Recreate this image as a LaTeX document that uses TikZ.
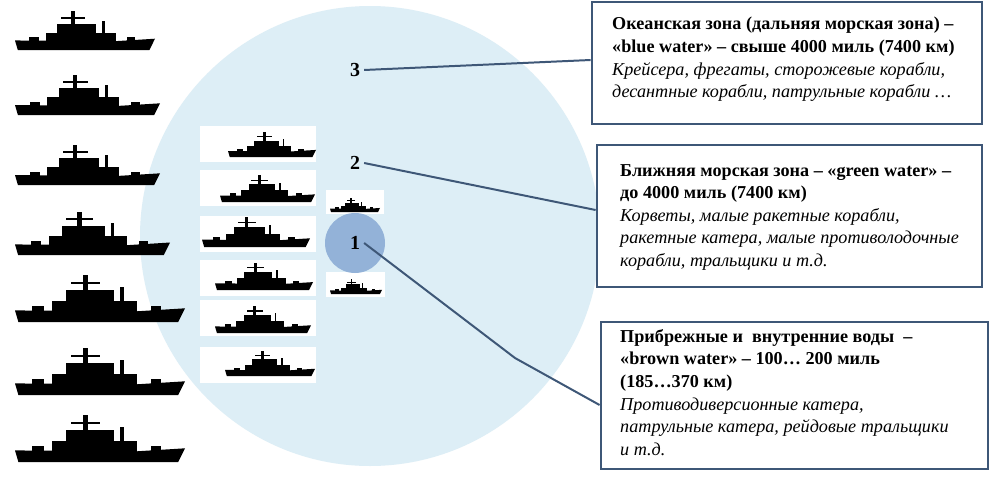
\documentclass[tikz,border=0pt]{standalone}
\usepackage{fontspec}
\setmainfont{Liberation Serif}
\usetikzlibrary{fit}
\begin{document}
\begin{tikzpicture}[x=0.03cm,y=-0.03cm,
  zonebox/.style={draw=boxblue,line width=2.4pt,inner sep=0pt},
  ztext/.style={anchor=north west,align=left,inner sep=0pt,font=\fontsize{15.5}{19.3}\selectfont},
  num/.style={font=\fontsize{17}{20}\selectfont\bfseries},
  conn/.style={draw=boxblue,line width=1.7pt}]
\definecolor{boxblue}{HTML}{3E5777}
\definecolor{seablue}{HTML}{DDEEF6}
\definecolor{coast}{HTML}{93B2D8}
\newcommand\myship[3]{%
 \begin{scope}[shift={(#1,#2)},xscale=#3,yscale=-0.62*#3]
  \fill (0.02,0) -- (0.96,0) -- (1,0.13) -- (0.7,0.1) -- (0,0.11) -- cycle;
  \fill (0.22,0.09) rectangle (0.72,0.2);
  \fill (0.3,0.19) rectangle (0.58,0.3);
  \fill (0.4,0.29) rectangle (0.43,0.45);
  \fill (0.33,0.36) rectangle (0.5,0.38);
  \fill (0.62,0.19) rectangle (0.64,0.33);
  \fill (0.1,0.1) rectangle (0.17,0.15);
  \fill (0.8,0.1) rectangle (0.86,0.15);
 \end{scope}}
\useasboundingbox (0,0) rectangle (993,476);
\fill[white] (0,0) rectangle (993,476);
\begin{scope}
\clip (0,0) rectangle (993,476);
\fill[seablue] (370,236) circle[radius=230];
\end{scope}
% left column ships
\foreach \y/\l in {50/140,115/145,185/145,255/155,322/170,395/170,462/170}
  \myship{15}{\y}{\l}
% middle column ships
\foreach \y in {126,170,216,260,300,347}
  \fill[white] (200,\y) rectangle (316,\y+36);
\foreach \y/\x/\l in {157/228/88,202/220/95,247/202/108,290/215/98,333/215/96,376/225/90}
  \myship{\x}{\y}{\l}
\fill[white] (326,190) rectangle (384,214);
\fill[white] (326,272) rectangle (385,297);
\myship{330}{212}{50}
\myship{330}{294}{52}
% zone numbers
\fill[coast] (355,243) circle[radius=30];
\node[num] (n1) at (355,243) {1};
\node[num] (n2) at (355,163) {2};
\node[num] (n3) at (355,70) {3};
% boxes
\coordinate (p3a) at (592,2); \coordinate (p3b) at (982,124);
\coordinate (p2a) at (597,145); \coordinate (p2b) at (982,287);
\coordinate (p1a) at (601,322); \coordinate (p1b) at (988,469);
\node[zonebox,fill=white,fit=(p3a)(p3b)] (b3) {};
\node[zonebox,fill=white,fit=(p2a)(p2b)] (b2) {};
\node[zonebox,fill=white,fit=(p1a)(p1b)] (b1) {};
\node[ztext] (t3) at (612,17)
 {\textbf{Океанская зона (дальняя морская зона) –}\\
  \textbf{«blue water» – свыше 4000 миль (7400 км)}\\
  \textit{Крейсера, фрегаты, сторожевые корабли,}\\
  \textit{десантные корабли, патрульные корабли …}};
\node[ztext] (t2) at (620,164)
 {\textbf{Ближняя морская зона – «green water» –}\\
  \textbf{до 4000 миль (7400 км)}\\
  \textit{Корветы, малые ракетные корабли,}\\
  \textit{ракетные катера, малые противолодочные}\\
  \textit{корабли, тральщики и т.д.}};
\node[ztext] (t1) at (620,329)
 {\textbf{Прибрежные и \ внутренние воды \ –}\\
  \textbf{«brown water» – 100… 200 миль}\\
  \textbf{(185…370 км)}\\
  \textit{Противодиверсионные катера,}\\
  \textit{патрульные катера, рейдовые тральщики}\\
  \textit{и т.д.}};
\coordinate (k1) at (515,358);
\draw[conn] (n3.east) -- (b3.west |- 0,60);
\draw[conn] (n2.east) -- (b2.west |- 0,210);
\draw[conn] (n1.east) -- (k1) -- (b1.west |- 0,405);
\end{tikzpicture}
\end{document}
